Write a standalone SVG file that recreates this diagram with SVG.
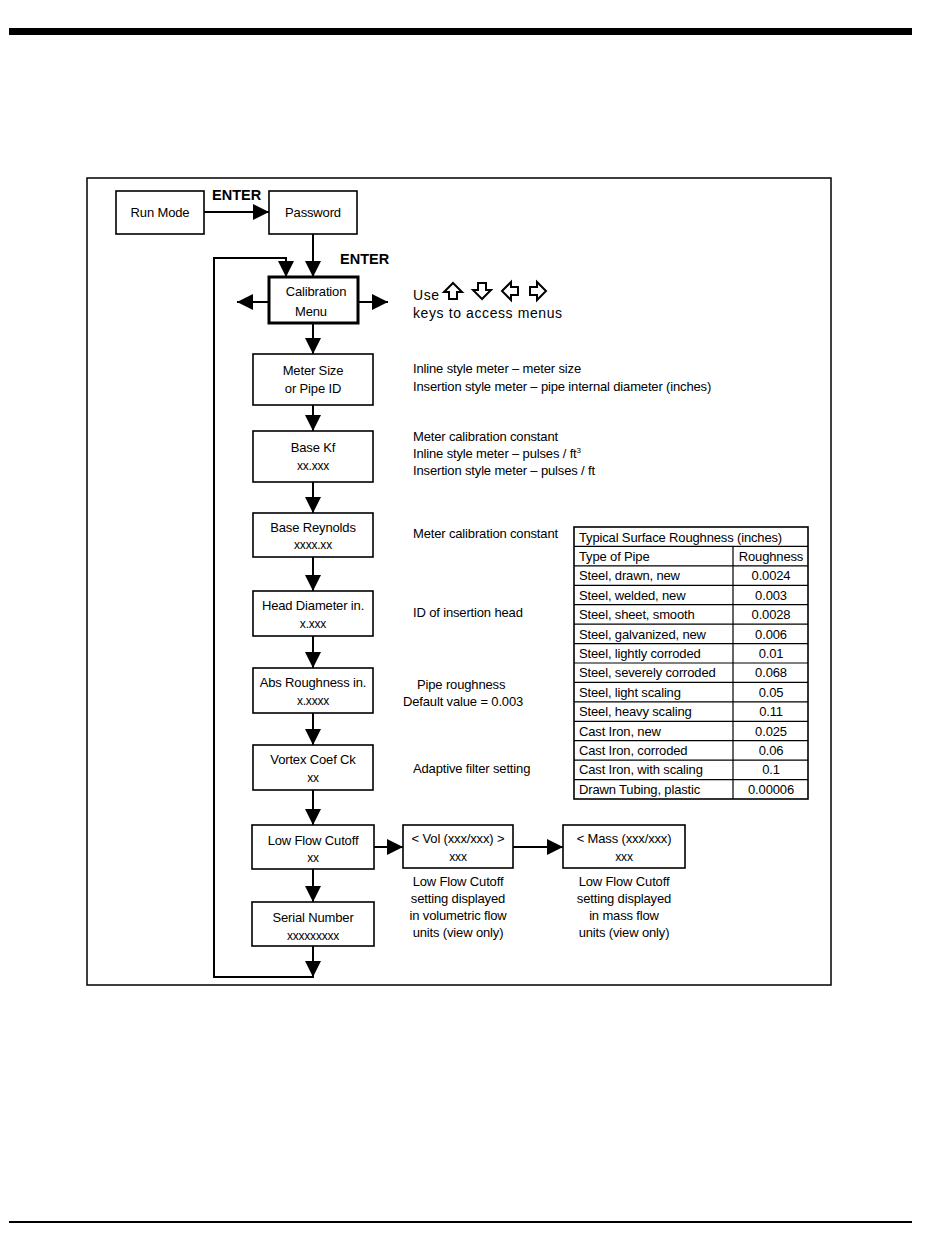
<svg xmlns="http://www.w3.org/2000/svg" width="950" height="1260" viewBox="0 0 950 1260">
<defs>
<style>
.box{fill:#fff;stroke:#000;stroke-width:1.6}
.thick{fill:#fff;stroke:#000;stroke-width:3}
.ln{fill:none;stroke:#000;stroke-width:2}
.t{font-family:"Liberation Sans",Arial,sans-serif;font-size:13px;letter-spacing:-0.15px;fill:#000}
.s{font-family:"Liberation Sans",Arial,sans-serif;font-size:12px;letter-spacing:-0.2px;fill:#000}
.m{text-anchor:middle}
.b{font-family:"Liberation Sans",Arial,sans-serif;font-size:14.5px;font-weight:bold;fill:#000}
.k{font-family:"Liberation Sans",Arial,sans-serif;font-size:14px;letter-spacing:0.6px;fill:#000}
.tb{fill:none;stroke:#000;stroke-width:1.2}
.key{fill:#fff;stroke:#000;stroke-width:2;stroke-linejoin:miter}
</style>
<marker id="ah" markerUnits="userSpaceOnUse" markerWidth="16" markerHeight="16" refX="16" refY="8" orient="auto">
<path d="M0,0 L16,8 L0,16 Z" fill="#000"/>
</marker>
<path id="ku" d="M0,-8 L9,1 L4,1 L4,8 L-4,8 L-4,1 L-9,1 Z"/>
</defs>
<rect x="0" y="0" width="950" height="1260" fill="#fff"/>
<rect x="9" y="28" width="903" height="7" fill="#000"/>
<line x1="9" y1="1222" x2="912" y2="1222" stroke="#000" stroke-width="2"/>
<rect x="87" y="178" width="744" height="807" fill="none" stroke="#000" stroke-width="1.5"/>

<g id="connectors">
<line class="ln" x1="204" y1="212" x2="269" y2="212" marker-end="url(#ah)"/>
<line class="ln" x1="313" y1="234" x2="313" y2="277" marker-end="url(#ah)"/>
<polyline class="ln" points="313,946 313,977 214,977 214,258 286,258 286,277" />
<line class="ln" x1="313" y1="946" x2="313" y2="977" marker-end="url(#ah)"/>
<line class="ln" x1="286" y1="258" x2="286" y2="277" marker-end="url(#ah)"/>
<line class="ln" x1="269" y1="302" x2="237" y2="302" marker-end="url(#ah)"/>
<line class="ln" x1="358" y1="302" x2="388" y2="302" marker-end="url(#ah)"/>
<line class="ln" x1="313" y1="323" x2="313" y2="354" marker-end="url(#ah)"/>
<line class="ln" x1="313" y1="405" x2="313" y2="431" marker-end="url(#ah)"/>
<line class="ln" x1="313" y1="482" x2="313" y2="513" marker-end="url(#ah)"/>
<line class="ln" x1="313" y1="557" x2="313" y2="591" marker-end="url(#ah)"/>
<line class="ln" x1="313" y1="636" x2="313" y2="668" marker-end="url(#ah)"/>
<line class="ln" x1="313" y1="713" x2="313" y2="745" marker-end="url(#ah)"/>
<line class="ln" x1="313" y1="790" x2="313" y2="825" marker-end="url(#ah)"/>
<line class="ln" x1="313" y1="869" x2="313" y2="902" marker-end="url(#ah)"/>
<line class="ln" x1="374" y1="847" x2="403" y2="847" marker-end="url(#ah)"/>
<line class="ln" x1="512" y1="847" x2="563" y2="847" marker-end="url(#ah)"/>
</g>
<text class="b" x="212" y="200">ENTER</text>
<text class="b" x="340" y="264">ENTER</text>

<g id="run-mode"><rect class="box" x="116" y="191" width="88" height="43"/><text class="t m" x="160" y="217">Run Mode</text></g>
<g id="password"><rect class="box" x="269" y="191" width="88" height="43"/><text class="t m" x="313" y="217">Password</text></g>
<g id="calibration-menu"><rect class="thick" x="269" y="277" width="89" height="46"/><text class="t m" x="316" y="296">Calibration</text><text class="t m" x="311" y="316">Menu</text></g>
<g id="meter-size"><rect class="box" x="253" y="354" width="120" height="51"/><text class="t m" x="313" y="375">Meter Size</text><text class="t m" x="313" y="393">or Pipe ID</text></g>
<g id="base-kf"><rect class="box" x="253" y="431" width="120" height="51"/><text class="t m" x="313" y="452">Base Kf</text><text class="s m" x="313" y="470">xx.xxx</text></g>
<g id="base-reynolds"><rect class="box" x="253" y="513" width="120" height="44"/><text class="t m" x="313" y="532">Base Reynolds</text><text class="s m" x="313" y="549">xxxx.xx</text></g>
<g id="head-diameter"><rect class="box" x="253" y="591" width="120" height="45"/><text class="t m" x="313" y="610">Head Diameter in.</text><text class="s m" x="313" y="628">x.xxx</text></g>
<g id="abs-roughness"><rect class="box" x="253" y="668" width="120" height="45"/><text class="t m" x="313" y="687">Abs Roughness in.</text><text class="s m" x="313" y="705">x.xxxx</text></g>
<g id="vortex-coef"><rect class="box" x="253" y="745" width="120" height="45"/><text class="t m" x="313" y="764">Vortex Coef Ck</text><text class="s m" x="313" y="782">xx</text></g>
<g id="low-flow-cutoff"><rect class="box" x="252" y="825" width="122" height="44"/><text class="t m" x="313" y="845">Low Flow Cutoff</text><text class="s m" x="313" y="862">xx</text></g>
<g id="serial-number"><rect class="box" x="252" y="902" width="122" height="44"/><text class="t m" x="313" y="922">Serial Number</text><text class="s m" x="313" y="940">xxxxxxxxx</text></g>
<g id="vol"><rect class="box" x="403" y="825" width="110" height="43"/><text class="t m" x="458" y="843">&lt; Vol (xxx/xxx) &gt;</text><text class="s m" x="458" y="861">xxx</text></g>
<g id="mass"><rect class="box" x="563" y="825" width="122" height="43"/><text class="t m" x="624" y="843">&lt; Mass (xxx/xxx)</text><text class="s m" x="624" y="861">xxx</text></g>

<g id="notes">
<text class="k" x="413" y="300" letter-spacing="0">Use</text>
<use href="#ku" class="key" transform="translate(453,291)"/>
<use href="#ku" class="key" transform="translate(482,291) rotate(180)"/>
<use href="#ku" class="key" transform="translate(510,291) rotate(-90)"/>
<use href="#ku" class="key" transform="translate(538,291) rotate(90)"/>
<text class="k" x="413" y="318">keys to access menus</text>
<text class="t" x="413" y="373">Inline style meter – meter size</text>
<text class="t" x="413" y="391">Insertion style meter – pipe internal diameter (inches)</text>
<text class="t" x="413" y="441">Meter calibration constant</text>
<text class="t" x="413" y="458">Inline style meter – pulses / ft<tspan font-size="8" dy="-5">3</tspan></text>
<text class="t" x="413" y="475">Insertion style meter – pulses / ft</text>
<text class="t" x="413" y="538">Meter calibration constant</text>
<text class="t" x="413" y="617">ID of insertion head</text>
<text class="t" x="417" y="689">Pipe roughness</text>
<text class="t" x="403" y="706">Default value = 0.003</text>
<text class="t" x="413" y="773">Adaptive filter setting</text>
<text class="t m" x="458" y="886">Low Flow Cutoff</text>
<text class="t m" x="458" y="903">setting displayed</text>
<text class="t m" x="458" y="920">in volumetric flow</text>
<text class="t m" x="458" y="937">units (view only)</text>
<text class="t m" x="624" y="886">Low Flow Cutoff</text>
<text class="t m" x="624" y="903">setting displayed</text>
<text class="t m" x="624" y="920">in mass flow</text>
<text class="t m" x="624" y="937">units (view only)</text>
</g>

<g id="roughness-table">
<rect x="574" y="527" width="234" height="272" fill="#fff" stroke="#000" stroke-width="1.6"/>
<path class="tb" d="M574,546.4H808 M574,565.9H808 M574,585.3H808 M574,604.7H808 M574,624.1H808 M574,643.6H808 M574,663H808 M574,682.4H808 M574,701.9H808 M574,721.3H808 M574,740.7H808 M574,760.1H808 M574,779.6H808 M733,546.4V799"/>
<text class="t" x="579" y="542">Typical Surface Roughness (inches)</text>
<text class="t" x="579" y="561">Type of Pipe</text><text class="t m" x="771" y="561">Roughness</text>
<text class="t" x="579" y="580">Steel, drawn, new</text><text class="t m" x="771" y="580">0.0024</text>
<text class="t" x="579" y="600">Steel, welded, new</text><text class="t m" x="771" y="600">0.003</text>
<text class="t" x="579" y="619">Steel, sheet, smooth</text><text class="t m" x="771" y="619">0.0028</text>
<text class="t" x="579" y="639">Steel, galvanized, new</text><text class="t m" x="771" y="639">0.006</text>
<text class="t" x="579" y="658">Steel, lightly corroded</text><text class="t m" x="771" y="658">0.01</text>
<text class="t" x="579" y="677">Steel, severely corroded</text><text class="t m" x="771" y="677">0.068</text>
<text class="t" x="579" y="697">Steel, light scaling</text><text class="t m" x="771" y="697">0.05</text>
<text class="t" x="579" y="716">Steel, heavy scaling</text><text class="t m" x="771" y="716">0.11</text>
<text class="t" x="579" y="736">Cast Iron, new</text><text class="t m" x="771" y="736">0.025</text>
<text class="t" x="579" y="755">Cast Iron, corroded</text><text class="t m" x="771" y="755">0.06</text>
<text class="t" x="579" y="774">Cast Iron, with scaling</text><text class="t m" x="771" y="774">0.1</text>
<text class="t" x="579" y="794">Drawn Tubing, plastic</text><text class="t m" x="771" y="794">0.00006</text>
</g>
</svg>
